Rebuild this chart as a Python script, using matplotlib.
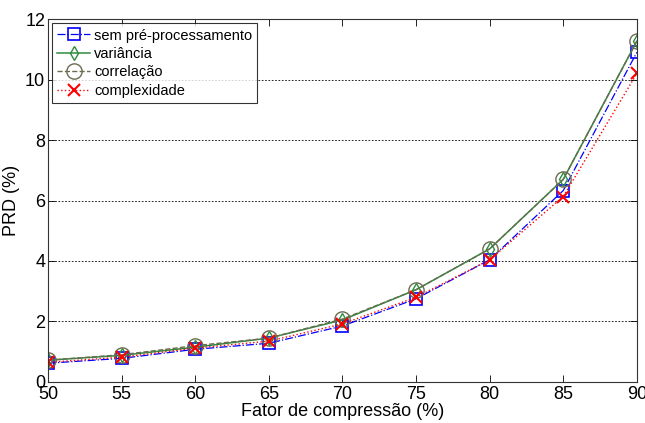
import matplotlib
matplotlib.use("Agg")
import matplotlib.pyplot as plt

plt.rcParams['font.family'] = ['Liberation Sans', 'DejaVu Sans']

x = [50, 55, 60, 65, 70, 75, 80, 85, 90]
sem = [0.62, 0.78, 1.08, 1.28, 1.85, 2.75, 4.04, 6.33, 10.9]
variancia = [0.72, 0.88, 1.15, 1.45, 2.05, 3.05, 4.4, 6.7, 11.27]
correlacao = [0.72, 0.9, 1.2, 1.45, 2.08, 3.05, 4.4, 6.7, 11.27]
complexidade = [0.65, 0.82, 1.12, 1.35, 1.92, 2.8, 4.04, 6.13, 10.2]
labels = ['sem pré-processamento', 'variância', 'correlação', 'complexidade']

fig = plt.figure(figsize=(6.45, 4.23), dpi=100)
ax = fig.add_axes([0.0744, 0.097, 0.913, 0.858])

ax.plot(x, sem, color='#0000ff', linestyle='-.', linewidth=0.9, marker='s',
        markersize=9, markerfacecolor='none', markeredgecolor='#0000ff', markeredgewidth=1.2, label=labels[0])
ax.plot(x, variancia, color='#2e8b3e', linestyle='-', linewidth=1.1, marker='d',
        markersize=7, markerfacecolor='none', markeredgecolor='#2e8b3e', markeredgewidth=1.0, label=labels[1])
ax.plot(x, correlacao, color='#6b6b50', linestyle='--', linewidth=1.0, marker='o',
        markersize=11, markerfacecolor='none', markeredgecolor='#6b6b50', markeredgewidth=1.0, label=labels[2])
ax.plot(x, complexidade, color='#ff0000', linestyle=':', linewidth=1.0, marker='x',
        markersize=9, markeredgewidth=1.5, label=labels[3])

ax.set_xlim(50, 90)
ax.set_ylim(0, 12)
ax.set_xticks(x)
ax.set_yticks([0, 2, 4, 6, 8, 10, 12])
ax.yaxis.grid(True, linestyle=(0, (2, 2)), color='black', linewidth=0.6)
ax.set_axisbelow(True)
ax.tick_params(direction='in', top=True, right=True, labelsize=13, length=5, width=0.6)
ax.tick_params(axis='x', pad=3)
ax.tick_params(axis='y', pad=2)
for s in ax.spines.values():
    s.set_linewidth(0.8)
    s.set_color('#333333')
ax.set_xlabel('Fator de compressão (%)', fontsize=13, labelpad=0)
ax.set_ylabel('PRD (%)', fontsize=13, labelpad=4)

leg = ax.legend(loc='upper left', fontsize=10.5, frameon=True, fancybox=False,
                edgecolor='black', borderpad=0.35, labelspacing=0.3, handlelength=2.2,
                handletextpad=0.3, borderaxespad=0.3, bbox_to_anchor=(0.0, 1.0))
leg.get_frame().set_linewidth(0.8)

fig.savefig('out.png', dpi=100)
